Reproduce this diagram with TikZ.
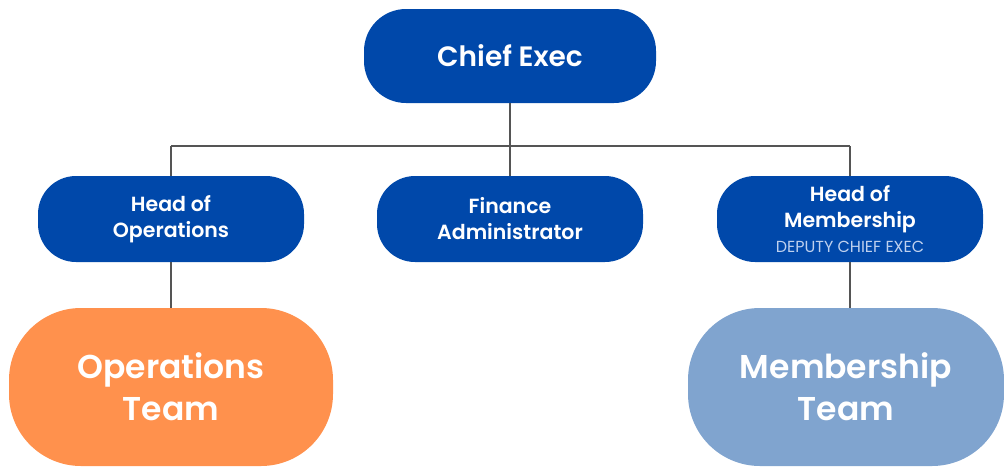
\documentclass[tikz,border=0pt]{standalone}
\usepackage{fontspec}
\setmainfont{Poppins}[BoldFont={Poppins SemiBold}]
\definecolor{boxblue}{RGB}{0,72,170}
\definecolor{teamorange}{RGB}{255,145,77}
\definecolor{teamblue}{RGB}{128,164,207}
\definecolor{linegray}{RGB}{85,85,85}
\definecolor{subblue}{RGB}{190,208,238}
\begin{document}
\begin{tikzpicture}[x=1pt,y=-1pt,
  pill/.style={draw=none, fill=boxblue, text=white, align=center, inner sep=0pt, font=\fontsize{20.5}{26}\selectfont\bfseries},
  team/.style={draw=none, text=white, align=center, inner sep=0pt, font=\fontsize{33}{42}\selectfont\bfseries},
  conn/.style={draw=linegray, line width=1.2pt}]
\useasboundingbox (0,0) rectangle (1004,466);
\node[pill, minimum width=292pt, minimum height=94pt, rounded corners=42pt, font=\fontsize{28}{32}\selectfont\bfseries] (ce) at (510,56) {Chief Exec};
\node[pill, minimum width=266pt, minimum height=86pt, rounded corners=38pt] (ho) at (171,219) {Head of\\Operations};
\node[pill, minimum width=266pt, minimum height=86pt, rounded corners=38pt] (fa) at (510,219) {Finance\\Administrator};
\node[pill, minimum width=266pt, minimum height=86pt, rounded corners=38pt] (hm) at (850,219) {};
\node[align=center, text=white, inner sep=0pt, font=\fontsize{20.5}{26}\selectfont\bfseries] (hmt) at (850,209) {Head of\\Membership};
\node[text=subblue, inner sep=0pt, font=\fontsize{16}{18}\selectfont] (hms) at (850,247) {DEPUTY CHIEF EXEC};
\node[team, fill=teamorange, minimum width=324pt, minimum height=158pt, rounded corners=72pt] (ot) at (171,387) {Operations\\Team};
\node[team, fill=teamblue, minimum width=316pt, minimum height=158pt, rounded corners=72pt] (mt) at (846,387) {Membership\\Team};
\coordinate (j) at (510,146);
\coordinate (jl) at (171,146);
\coordinate (jr) at (850,146);
\draw[conn] (ce.south) -- (j);
\draw[conn] (jl) -- (jr);
\draw[conn] (jl) -- (ho.north);
\draw[conn] (j) -- (fa.north);
\draw[conn] (jr) -- (hm.north);
\draw[conn] (ho.south) -- (ot.north);
\draw[conn] (hm.south) -- (mt.north -| hm.south);
\end{tikzpicture}
\end{document}
